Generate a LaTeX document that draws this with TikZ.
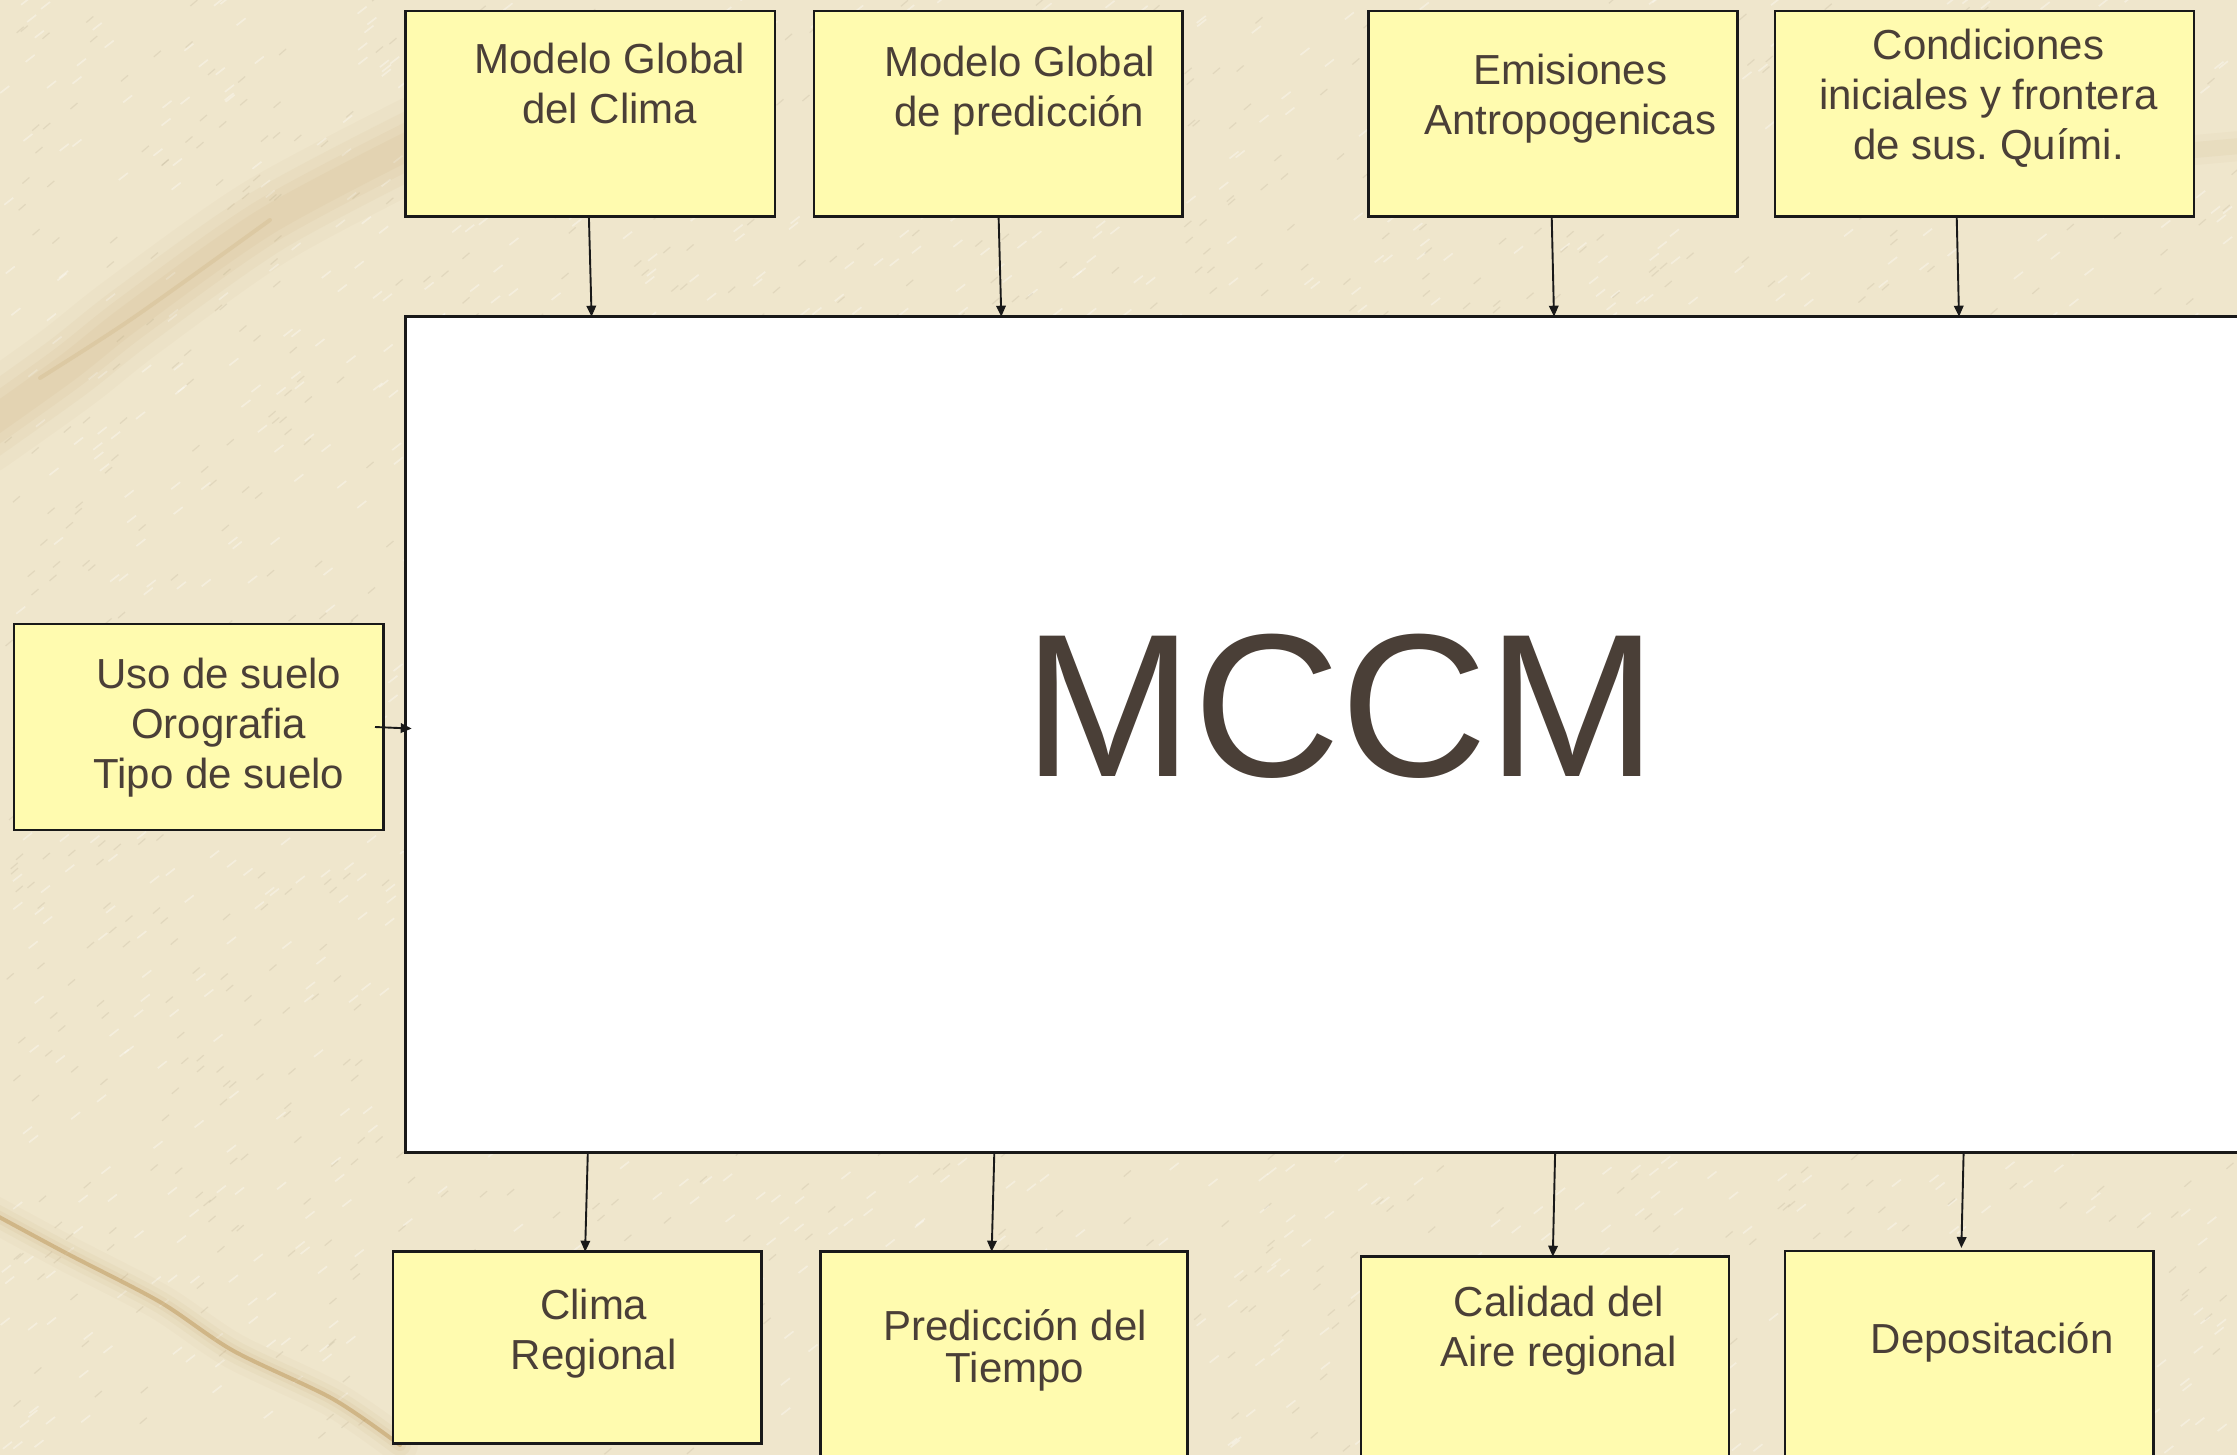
\documentclass[tikz,border=0pt]{standalone}
\usepackage{fontspec}
\setmainfont{Liberation Sans}
\usetikzlibrary{arrows.meta}
\definecolor{bg}{HTML}{EFE6CC}
\definecolor{boxfill}{HTML}{FFFBAF}
\definecolor{txt}{HTML}{4A3F37}
\definecolor{vein}{HTML}{B8904E}
\definecolor{fiberdark}{HTML}{B9AE93}
\begin{document}
\begin{tikzpicture}[x=1pt,y=-1pt,
  box/.style={draw=black!90, line width=2.5pt, fill=boxfill, inner sep=0pt, outer sep=0pt},
  bigbox/.style={draw=black!90, line width=2.5pt, fill=white, inner sep=0pt, outer sep=0pt},
  lbl/.style={text=txt, align=center, inner sep=0pt, font=\fontsize{42}{50}\selectfont},
  arr/.style={-{Triangle[length=11pt,width=9.5pt]}, line width=1.9pt, draw=black!90},
  softvein/.style={vein, line cap=round, line join=round}]
\useasboundingbox (0,0) rectangle (2237,1455);
\clip (0,0) rectangle (2237,1455);
\fill[bg] (0,0) rectangle (2237,1455);
% paper texture
\pgfmathsetseed{11}
\foreach \i in {1,...,1800}{
  \pgfmathsetmacro\xx{rnd*2237}\pgfmathsetmacro\yy{rnd*1455}
  \draw[white, opacity=0.35, line width=1.6pt] (\xx,\yy) -- ++(9,-7);
}
\foreach \i in {1,...,1400}{
  \pgfmathsetmacro\xx{rnd*2237}\pgfmathsetmacro\yy{rnd*1455}
  \draw[fiberdark, opacity=0.25, line width=1.2pt] (\xx,\yy) -- ++(7,-6);
}
% background veins
\foreach \w/\o in {90/0.04,65/0.05,45/0.06,28/0.06}{
  \draw[softvein, line width=\w pt, opacity=\o] plot[smooth] coordinates {(-20,430) (67,368) (133,316) (267,221) (420,140)};
}
\draw[softvein, line width=4pt, opacity=0.15] plot[smooth] coordinates {(40,378) (133,318) (270,220)};
\foreach \w/\o in {36/0.04,22/0.06,12/0.08}{
  \draw[softvein, line width=\w pt, opacity=\o] plot[smooth] coordinates {(-10,1212) (66.7,1253.4) (160,1302) (233,1350.6) (333,1399) (400,1445)};
}
\draw[softvein, line width=4pt, opacity=0.45] plot[smooth] coordinates {(-10,1212) (66.7,1253.4) (160,1302) (233,1350.6) (333,1399) (400,1445)};
\foreach \w/\o in {30/0.04,16/0.06}{
  \draw[softvein, line width=\w pt, opacity=\o] (2195,150) -- (2240,146);
}
% boxes
\node[box, minimum width=369.1pt, minimum height=205.7pt] (b1) at (590.25,113.85) {};
\node[box, minimum width=368.5pt, minimum height=205.7pt] (b2) at (998.15,113.85) {};
\node[box, minimum width=369pt, minimum height=205.7pt] (b3) at (1553.1,113.85) {};
\node[box, minimum width=419.3pt, minimum height=205.7pt] (b4) at (1984.45,113.85) {};
\node[bigbox, minimum width=1854.3pt, minimum height=836pt] (m) at (1332.85,734.7) {};
\node[box, minimum width=369.3pt, minimum height=206pt] (lb) at (198.65,727) {};
\node[box, minimum width=368.5pt, minimum height=191.6pt] (c1) at (577.15,1347.5) {};
\node[box, minimum width=367.4pt, minimum height=228.3pt] (c2) at (1004,1365.85) {};
\node[box, minimum width=367.8pt, minimum height=223.3pt] (c3) at (1545.1,1368.35) {};
\node[box, minimum width=368.5pt, minimum height=229pt] (c4) at (1969.25,1365.5) {};
% texts
\node[lbl] (t1) at (609.8,83.2) {Modelo Global\\del Clima};
\node[lbl] (t2) at (1019.5,90.35) {Modelo Global\\de predicción};
\node[lbl] (t3) at (1570.4,98.6) {Emisiones\\Antropogenicas};
\node[lbl] (t4) at (1988.5,98.1) {Condiciones\\iniciales y frontera\\de sus.\ Quími.};
\node[lbl] (tl) at (218.8,728) {Uso de suelo\\Orografia\\Tipo de suelo};
\node[lbl] (tc1) at (593.7,1333.9) {Clima\\Regional};
\node[lbl, font=\fontsize{42}{42}\selectfont] (tc2) at (1015,1350.7) {Predicción del\\Tiempo};
\node[lbl] (tc3) at (1558.8,1330.3) {Calidad del\\Aire regional};
\node[lbl] (tc4) at (1992.2,1342.1) {Depositación};
\node[text=txt, inner sep=0pt, font=\fontsize{204}{240}\selectfont] (mt) at (1340.6,706.3) {MCCM};
% connectors
\draw[arr] (b1.south -| 588.9,0) -- (m.north -| 591.6,0);
\draw[arr] (b2.south -| 998.6,0) -- (m.north -| 1001.3,0);
\draw[arr] (b3.south -| 1551.7,0) -- (m.north -| 1554,0);
\draw[arr] (b4.south -| 1956.7,0) -- (m.north -| 1959,0);
\draw[arr, shorten >=-6pt] (lb.east -| 375,0) -- (m.west |- 0,728.3);
\draw[arr] (m.south -| 587.8,0) -- (c1.north -| 585.1,0);
\draw[arr] (m.south -| 994.3,0) -- (c2.north -| 991.7,0);
\draw[arr] (m.south -| 1555.1,0) -- (c3.north -| 1552.8,0);
\draw[arr, shorten >=3pt] (m.south -| 1963.6,0) -- (c4.north -| 1961.3,0);
\end{tikzpicture}
\end{document}
